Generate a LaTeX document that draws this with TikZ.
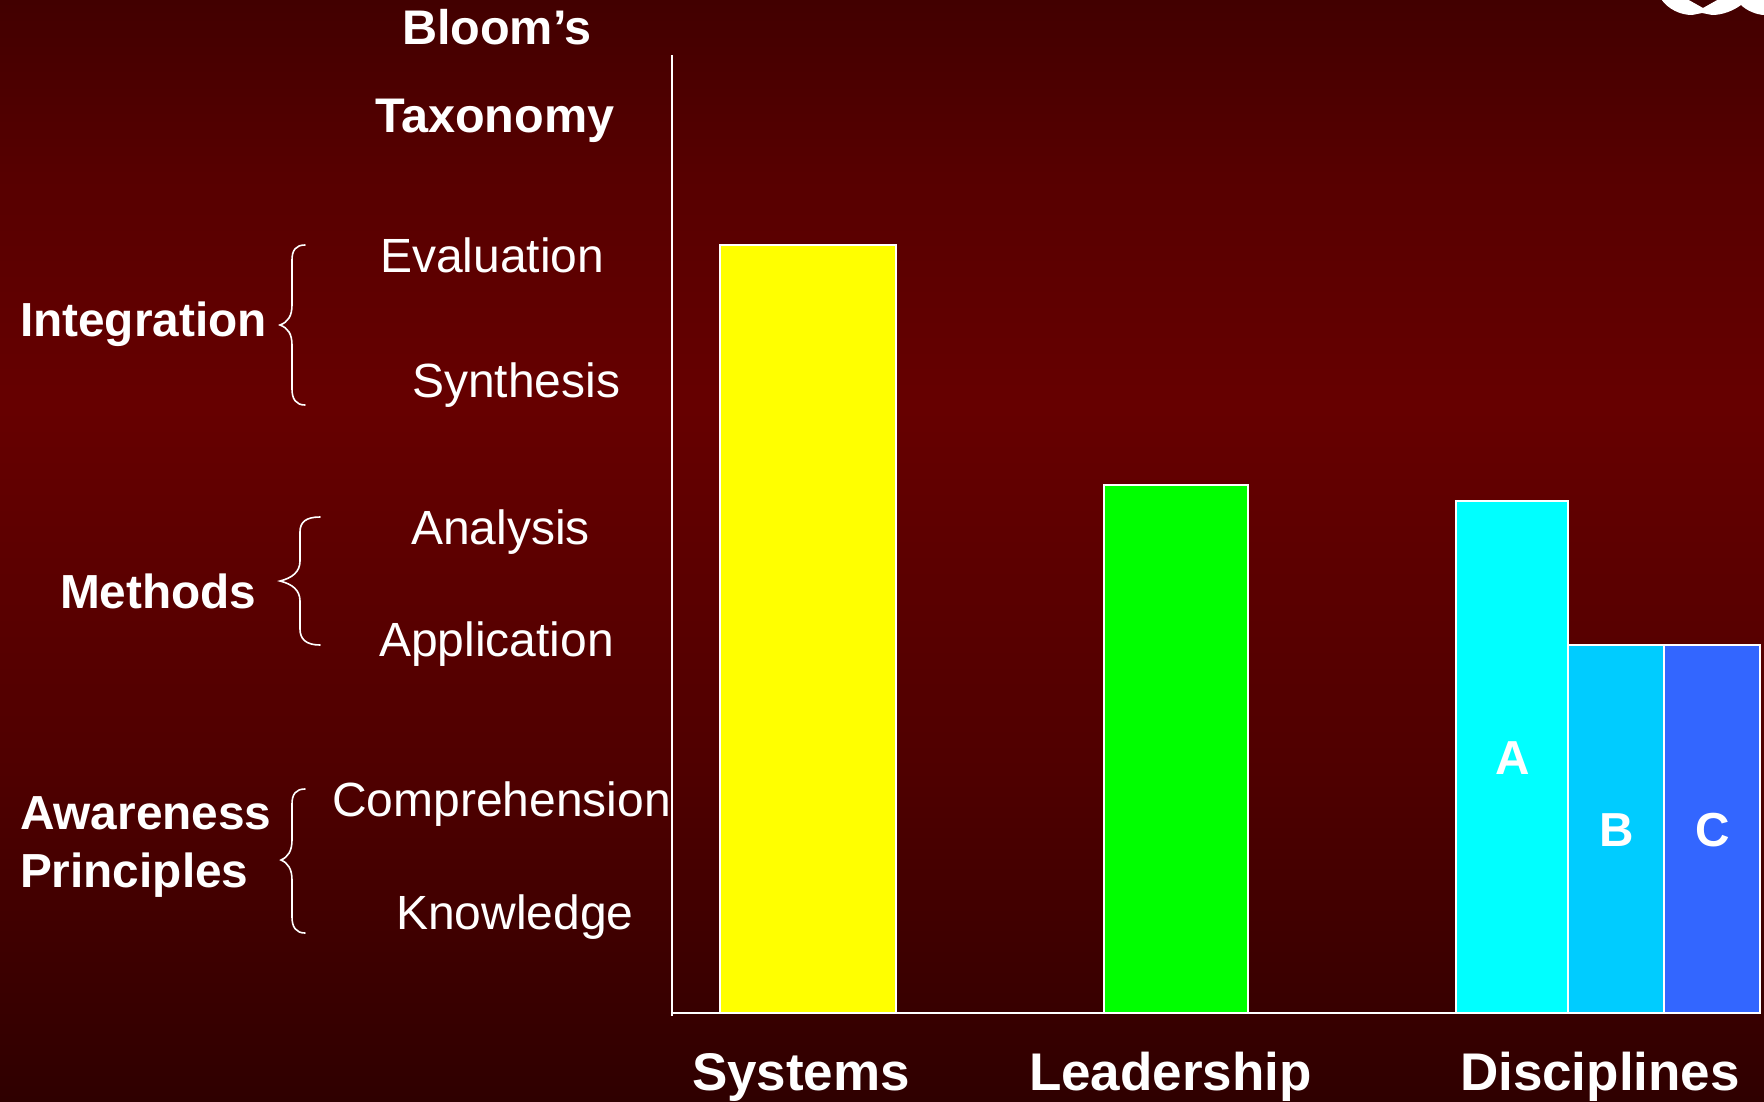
\documentclass[tikz,border=0pt]{standalone}
\usepackage{fontspec}
\setmainfont{Liberation Sans}
\definecolor{bgbot}{HTML}{2F0000}
\definecolor{bgmid}{HTML}{660000}
\definecolor{bgup}{HTML}{570000}
\definecolor{bglow}{HTML}{4F0000}
\definecolor{bgtop}{HTML}{420000}
\definecolor{barblue}{HTML}{00CCFF}
\definecolor{barindigo}{HTML}{3366FF}
\definecolor{baryellow}{HTML}{FFFF00}
\definecolor{barcyan}{HTML}{00FFFF}
\definecolor{bargreen}{HTML}{00FF00}
\pgfdeclareverticalshading{slidebg}{100bp}{color(0bp)=(bgbot); color(25bp)=(bgbot); color(40bp)=(bglow); color(56.5bp)=(bgmid); color(67bp)=(bgup); color(75bp)=(bgtop); color(100bp)=(bgtop)}
\tikzset{
  x=1pt,y=-1pt,
  lab/.style={anchor=base west,inner sep=0pt,outer sep=0pt,text=white,font=\fontsize{48}{50}\selectfont},
  blab/.style={lab,font=\fontsize{47.8}{50}\selectfont\bfseries},
  tlab/.style={lab,font=\fontsize{48.6}{50}\selectfont\bfseries},
  xlab/.style={lab,font=\fontsize{53}{55}\selectfont\bfseries},
  clab/.style={anchor=base,inner sep=0pt,outer sep=0pt,text=white,font=\fontsize{47.7}{50}\selectfont\bfseries},
  bar/.style={draw=white,line width=2pt,inner sep=0pt,outer sep=0pt,anchor=north west},
  brace/.style={draw=white,line width=1.6pt,line cap=round},
  axis/.style={draw=white,line width=2pt}
}
\begin{document}
\begin{tikzpicture}
\useasboundingbox (0,0) rectangle (1764,1101);
\shade[shading=slidebg] (0,0) rectangle (1764,1101);
\clip (0,0) rectangle (1764,1101);
% logo fragment
\fill[white] (1661,-1) .. controls (1668,9) and (1680,15) .. (1692,15) -- (1702,13) -- (1712,15) .. controls (1722,15) and (1733,11) .. (1741,5) .. controls (1746,10) and (1756,15) .. (1765,15) -- (1765,-1) -- (1719,-1) -- (1703,8) -- (1687,-1) -- cycle;
% bars
\node[bar,fill=baryellow,minimum width=176pt,minimum height=768pt] (sys) at (720,245) {};
\node[bar,fill=bargreen,minimum width=144pt,minimum height=528pt] (lead) at (1104,485) {};
\node[bar,fill=barcyan,minimum width=112pt,minimum height=512pt] (a) at (1456,501) {};
\node[bar,fill=barblue,minimum width=96pt,minimum height=368pt] (b) at (1568,645) {};
\node[bar,fill=barindigo,minimum width=96pt,minimum height=368pt] (c) at (1664,645) {};
\node[clab] (la) at (1513,774) {A};
\node[clab] (lb) at (1617,846) {B};
\node[clab] (lc) at (1713,846) {C};
% axes
\coordinate (ot) at (672,55);
\coordinate (ob) at (672,1016);
\coordinate (xl) at (672,1013);
\coordinate (xr) at (1760,1013);
\draw[axis] (ot) -- (ob);
\draw[axis] (xl) -- (xr);
% left texts
\node[tlab] (t1) at (402,44) {Bloom’s};
\node[tlab] (t2) at (375,132) {Taxonomy};
\node[lab] (ev) at (380,272) {Evaluation};
\node[lab] (sy) at (412,397) {Synthesis};
\node[lab] (an) at (411,544) {Analysis};
\node[lab] (ap) at (379,656) {Application};
\node[lab] (co) at (332,816) {Comprehension};
\node[lab] (kn) at (396,929) {Knowledge};
\node[blab] (ig) at (20,336) {Integration};
\node[blab] (me) at (60,608) {Methods};
\node[blab] (aw) at (20,829) {Awareness};
\node[blab] (pr) at (20,887) {Principles};
\node[xlab] (xs) at (692,1090) {Systems};
\node[xlab] (xd) at (1029,1090) {Leadership};
\node[xlab] (xx) at (1460,1090) {Disciplines};
% braces
\draw[brace] (305,245) .. controls (296,245) and (292,250) .. (292,260) -- (292,305) .. controls (292,316) and (288,322) .. (280,325) .. controls (288,328) and (292,334) .. (292,345) -- (292,389) .. controls (292,399) and (296,405) .. (305,405);
\draw[brace] (320,517) .. controls (306,517) and (300,522) .. (300,532) -- (300,561) .. controls (300,572) and (292,578) .. (280,581) .. controls (292,584) and (300,590) .. (300,601) -- (300,629) .. controls (300,639) and (306,645) .. (320,645);
\draw[brace] (305,789) .. controls (296,789) and (292,794) .. (292,804) -- (292,840) .. controls (292,851) and (288,857) .. (281,860) .. controls (288,863) and (292,869) .. (292,880) -- (292,917) .. controls (292,927) and (296,933) .. (305,933);
\end{tikzpicture}
\end{document}
